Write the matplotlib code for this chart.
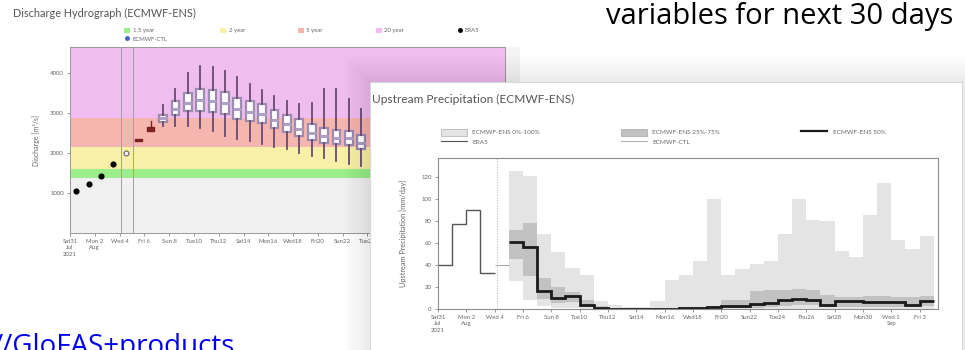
import matplotlib.pyplot as plt
from matplotlib.patches import Rectangle, Patch
from matplotlib.lines import Line2D

W, H = 965, 350
plt.rcParams['font.family'] = ['Lato', 'DejaVu Sans']

# ---- discharge hydrograph (left screenshot) ----
obs_days = [0.5, 1.5, 2.5, 3.5]
obs_q = [1050, 1220, 1430, 1720]
first_fc_day = 4.5
first_fc_q = 2000

box_days = [5.5, 6.5, 7.5, 8.5, 9.5, 10.5, 11.5, 12.5, 13.5, 14.5,
            15.5, 16.5, 17.5, 18.5, 19.5, 20.5, 21.5, 22.5, 23.5]
box_med = [2320, 2600, 2870, 3100, 3250, 3320, 3300, 3250, 3100, 3030,
           2970, 2820, 2720, 2600, 2500, 2420, 2380, 2380, 2250]
box_q1 = [2300, 2560, 2780, 2950, 3050, 3050, 3030, 2980, 2850, 2800,
          2750, 2620, 2520, 2420, 2330, 2250, 2220, 2200, 2100]
box_q3 = [2340, 2640, 2960, 3300, 3500, 3600, 3580, 3520, 3380, 3300,
          3230, 3080, 2960, 2840, 2720, 2630, 2580, 2560, 2450]
box_lo = [2300, 2550, 2680, 2680, 2680, 2630, 2550, 2420, 2350, 2300,
          2220, 2150, 2100, 2000, 1930, 1880, 1800, 1730, 1680]
box_hi = [2350, 2800, 3200, 3600, 4000, 4170, 4150, 4050, 3900, 3730,
          3570, 3420, 3300, 3220, 3250, 3600, 3600, 3350, 3100]

rp_levels = [1380, 1600, 2150, 2870]   # 1.5, 2, 5, 20 year
rp_names = ['1.5 year', '2 year', '5 year', '20 year']
rp_colors = ['#9cee8c', '#f8f0a8', '#f6b6b0', '#efbdf0']

tick_days = list(range(0, 35, 2))
tick_labels = ['Sat31\nJul\n2021', 'Mon 2\nAug', 'Wed 4', 'Fri 6', 'Sun 8', 'Tue10',
               'Thu12', 'Sat14', 'Mon16', 'Wed18', 'Fri20', 'Sun22', 'Tue24',
               'Thu26', 'Sat28', 'Mon30', 'Wed 1\nSep', 'Fri 3']

# ---- upstream precipitation (right screenshot) ----
era5_edges = [0, 1, 2, 3, 4]
era5_p = [40, 77, 90, 33]
ctl_edges = [4, 5]
ctl_p = [40]
ens_edges = list(range(5, 36))
ens_max = [125, 121, 68, 52, 37, 31, 7, 4, 2, 2, 7, 26, 31, 44, 100,
           31, 36, 41, 44, 68, 100, 81, 80, 53, 47, 85, 114, 63, 54, 66]
ens_min = [25, 8, 3, 1, 1, 0, 0, 0, 0, 0, 0, 0, 0, 0, 0,
           0, 0, 0, 0, 0, 0, 0, 0, 0, 0, 0, 0, 0, 0, 0]
ens_q75 = [72, 78, 28, 20, 15, 8, 3, 1, 1, 1, 1, 1, 1.5, 2, 3,
           8, 8, 16, 17, 17, 18, 17, 13, 11, 11, 12, 12, 11, 11, 12]
ens_q25 = [45, 30, 9, 5, 6, 2, 0, 0, 0, 0, 0, 0, 0, 0.5, 0.5,
           1, 1, 1, 2, 3, 4, 4, 2, 2, 2, 2, 2, 2, 2, 3]
ens_med = [61, 56, 16, 10, 12, 4, 1, 0, 0, 0, 0, 0, 0.5, 1, 1.5,
           2.5, 2.5, 4.5, 5, 8, 9.5, 8, 4, 7, 7, 6.5, 6.5, 6.5, 4, 7]


def px_box(l, t, r, b):
    return [l / W, 1 - b / H, (r - l) / W, (b - t) / H]


fig = plt.figure(figsize=(W / 100, H / 100), dpi=100)

# discharge axes
ax1 = fig.add_axes(px_box(70, 47, 505, 233), zorder=1)
ax1.set_xlim(0, 35.1)
ax1.set_ylim(0, 4650)
ax1.axhspan(0, rp_levels[0], color='#f0f0f0', lw=0)
bounds = rp_levels + [4650]
for i in range(4):
    ax1.axhspan(bounds[i], bounds[i + 1], color=rp_colors[i], lw=0)
ax1.axvline(4.1, color='#a0a0a0', lw=0.7)
ax1.axvline(5.1, color='#a0a0a0', lw=0.7)

stats = []
for i in range(len(box_days)):
    stats.append(dict(med=box_med[i], q1=box_q1[i], q3=box_q3[i],
                      whislo=box_lo[i], whishi=box_hi[i]))
ax1.bxp(stats[:2], positions=box_days[:2], widths=0.55, showfliers=False,
        showcaps=False, patch_artist=True,
        boxprops=dict(facecolor='#8a2a2a', edgecolor='#7a2020', lw=1),
        whiskerprops=dict(color='#7a2020', lw=1),
        medianprops=dict(color='#7a2020', lw=1))
ax1.bxp(stats[2:], positions=box_days[2:], widths=0.62, showfliers=False,
        showcaps=False, patch_artist=True,
        boxprops=dict(facecolor='white', edgecolor='#9c8cb0', lw=1.6),
        whiskerprops=dict(color='#6a4a70', lw=1.3),
        medianprops=dict(color='#b0a0c4', lw=2.2))
ax1.plot(obs_days, obs_q, 'o', color='black', ms=3.4, zorder=5)
ax1.plot([first_fc_day], [first_fc_q], 'o', mfc='#f4f0f4', mec='#666666',
         ms=3.5, mew=0.8, zorder=5)

ax1.set_xticks(tick_days)
ax1.set_xticklabels(tick_labels, fontsize=4.3, color='#666666', linespacing=1.3)
ax1.set_yticks([1000, 2000, 3000, 4000])
ax1.set_yticklabels(['1000', '2000', '3000', '4000'], fontsize=4.3, color='#666666')
ax1.tick_params(length=2.5, width=0.6, color='#888888', pad=2)
for s in ax1.spines.values():
    s.set_color('#999999')
    s.set_linewidth(0.7)
ax1.set_ylabel('Discharge [m³/s]', fontsize=5, color='#666666')
ax1.yaxis.set_label_coords(-0.069, 0.5)

h1 = [Patch(fc=rp_colors[0], ec='none'), Line2D([], [], marker='o', ls='', color='#4060c0', ms=2.5),
      Patch(fc=rp_colors[1], ec='none'), Patch(fc=rp_colors[2], ec='none'),
      Patch(fc=rp_colors[3], ec='none'), Line2D([], [], marker='o', ls='', color='black', ms=2.5)]
l1 = [rp_names[0], 'ECMWF-CTL', rp_names[1], rp_names[2], rp_names[3], 'ERA5']
fig.legend(h1, l1, ncol=5, mode='expand', loc='lower left', frameon=False,
           bbox_to_anchor=(122 / W, 1 - 44 / H, 360 / W, 26 / H),
           fontsize=4.3, labelcolor='#666666', handlelength=1.0, handleheight=0.9,
           handletextpad=0.4, labelspacing=0.5, borderaxespad=0)
fig.text(13 / W, 1 - 17 / H, 'Discharge Hydrograph (ECMWF-ENS)', fontsize=7.8,
         color='#555555')
# grey margin of the left screenshot, right of its plot
fig.patches.append(Rectangle((505 / W, 1 - 240 / H), 15 / W, 193 / H,
                             transform=fig.transFigure, fc='#f3f3f3', lw=0, zorder=0))

# soft shadow round the precipitation card
bg = fig.add_axes([0, 0, 1, 1], zorder=2)
bg.set_xlim(0, W)
bg.set_ylim(H, 0)
bg.set_axis_off()
for k in range(1, 11):
    bg.add_patch(Rectangle((370 - k * 2.6, 82 - k * 2.6), 592 + k * 5.2, 300,
                           fc='black', alpha=0.007, lw=0))

# white card
card = fig.add_axes(px_box(370, 82, 962, 352), zorder=3)
card.set_xticks([])
card.set_yticks([])
card.set_facecolor('white')
for s in card.spines.values():
    s.set_color('#d8d8d8')
    s.set_linewidth(0.8)

# precipitation axes
ax2 = fig.add_axes(px_box(438, 158, 938, 309), zorder=4)
ax2.set_facecolor('white')
ax2.set_xlim(0, 35.3)
ax2.set_ylim(0, 137)
ax2.stairs(ens_max, ens_edges, baseline=ens_min, fill=True, color='#e4e4e4', lw=0)
ax2.stairs(ens_q75, ens_edges, baseline=ens_q25, fill=True, color='#c2c2c2', lw=0)
ax2.stairs(ens_med, ens_edges, baseline=None, color='#1a1a1a', lw=2.0)
ax2.stairs(era5_p, era5_edges, baseline=None, color='#555555', lw=1.0)
ax2.stairs(ctl_p, ctl_edges, baseline=None, color='#a8a8a8', lw=0.8)
ax2.axvline(4.2, color='#b0b0b0', lw=0.7, ls=':')

ax2.set_xticks(tick_days)
ax2.set_xticklabels(tick_labels, fontsize=4.3, color='#666666', linespacing=1.3)
ax2.set_yticks([0, 20, 40, 60, 80, 100, 120])
ax2.set_yticklabels(['0', '20', '40', '60', '80', '100', '120'], fontsize=4.3, color='#666666')
ax2.tick_params(length=2.5, width=0.6, color='#888888', pad=2)
for s in ax2.spines.values():
    s.set_color('#8c8c8c')
    s.set_linewidth(0.8)
ax2.set_ylabel('Upstream Precipitation [mm/day]', fontsize=5.3, color='#666666')
ax2.yaxis.set_label_coords(-0.062, 0.5)

h2 = [Patch(fc='#e4e4e4', ec='#b8b8b8', lw=0.6), Line2D([], [], color='#555555', lw=0.8),
      Patch(fc='#c2c2c2', ec='#b0b0b0', lw=0.6), Line2D([], [], color='#a8a8a8', lw=0.7),
      Line2D([], [], color='#1a1a1a', lw=1.6)]
l2 = ['ECMWF-ENS 0%-100%', 'ERA5', 'ECMWF-ENS 25%-75%', 'ECMWF-CTL', 'ECMWF-ENS 50%']
leg2 = fig.legend(h2, l2, ncol=3, mode='expand', loc='lower left', frameon=False,
                  bbox_to_anchor=(438 / W, 1 - 148 / H, 450 / W, 28 / H),
                  fontsize=4.6, labelcolor='#666666', handlelength=4.2, handleheight=1.3,
                  handletextpad=0.8, labelspacing=0.45, borderaxespad=0)
leg2.set_zorder(5)
t2 = fig.text(372 / W, 1 - 103 / H, 'Upstream Precipitation (ECMWF-ENS)', fontsize=8.6,
              color='#555555')
t2.set_zorder(5)

# slide texts
fig.text(953 / W, 1 - 24 / H, 'variables for next 30 days', fontsize=21,
         family=['Open Sans', 'DejaVu Sans'], color='black', ha='right', va='baseline')
fig.text(235 / W, 1 - 354 / H, '//GloFAS+products', fontsize=20,
         family=['Open Sans', 'DejaVu Sans'], color='#0000ee', ha='right', va='baseline')

fig.savefig('out.png', dpi=100)
